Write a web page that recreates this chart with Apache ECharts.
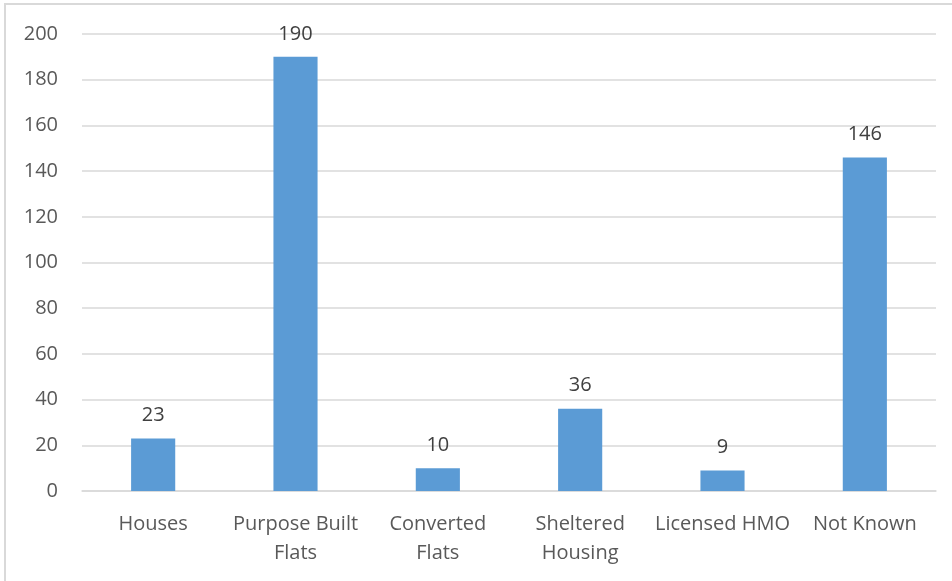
<!DOCTYPE html>
<html>
<head>
<meta charset="utf-8">
<script src="https://cdn.jsdelivr.net/npm/echarts@6/dist/echarts.min.js"></script>
<style>
  html, body { margin: 0; padding: 0; background: #fff; }
  #chart { width: 952px; height: 581px; }
</style>
</head>
<body>
<div id="chart"></div>
<script>
// Données du graphique
const categories = ["Houses", "Purpose Built\nFlats", "Converted\nFlats", "Sheltered\nHousing", "Licensed HMO", "Not Known"];
const values = [23, 190, 10, 36, 9, 146];
const yTicks = { min: 0, max: 200, interval: 20 };

const textColor = "#595959";
const fontFamily = "'Open Sans', 'Noto Sans', sans-serif";

const chart = echarts.init(document.getElementById("chart"));

const options = {
  animation: false,
  // Cadre gris autour du graphique
  graphic: [
    {
      type: "rect",
      shape: { x: 5, y: 4, width: 1000, height: 1000 },
      style: { fill: "none", stroke: "#d9d9d9", lineWidth: 2 },
    },
  ],
  grid: { left: 82, right: 16, top: 34, bottom: 90 },
  xAxis: {
    type: "category",
    data: categories,
    axisTick: { show: false },
    axisLine: { lineStyle: { color: "#d9d9d9", width: 1.5 } },
    axisLabel: {
      interval: 0,
      margin: 19,
      color: textColor,
      fontSize: 20,
      lineHeight: 29,
      fontFamily: fontFamily,
    },
  },
  yAxis: {
    type: "value",
    min: yTicks.min,
    max: yTicks.max,
    interval: yTicks.interval,
    axisLine: { show: false },
    axisTick: { show: false },
    splitLine: { lineStyle: { color: "#d9d9d9", width: 1.5 } },
    axisLabel: {
      margin: 24,
      color: textColor,
      fontSize: 20,
      fontFamily: fontFamily,
    },
  },
  series: [
    {
      type: "bar",
      data: values,
      barWidth: "31%",
      itemStyle: { color: "#5b9bd5" },
      label: {
        show: true,
        position: "top",
        distance: 13,
        color: "#404040",
        fontSize: 20,
        fontFamily: fontFamily,
      },
    },
  ],
};

chart.setOption(options);
</script>
</body>
</html>
